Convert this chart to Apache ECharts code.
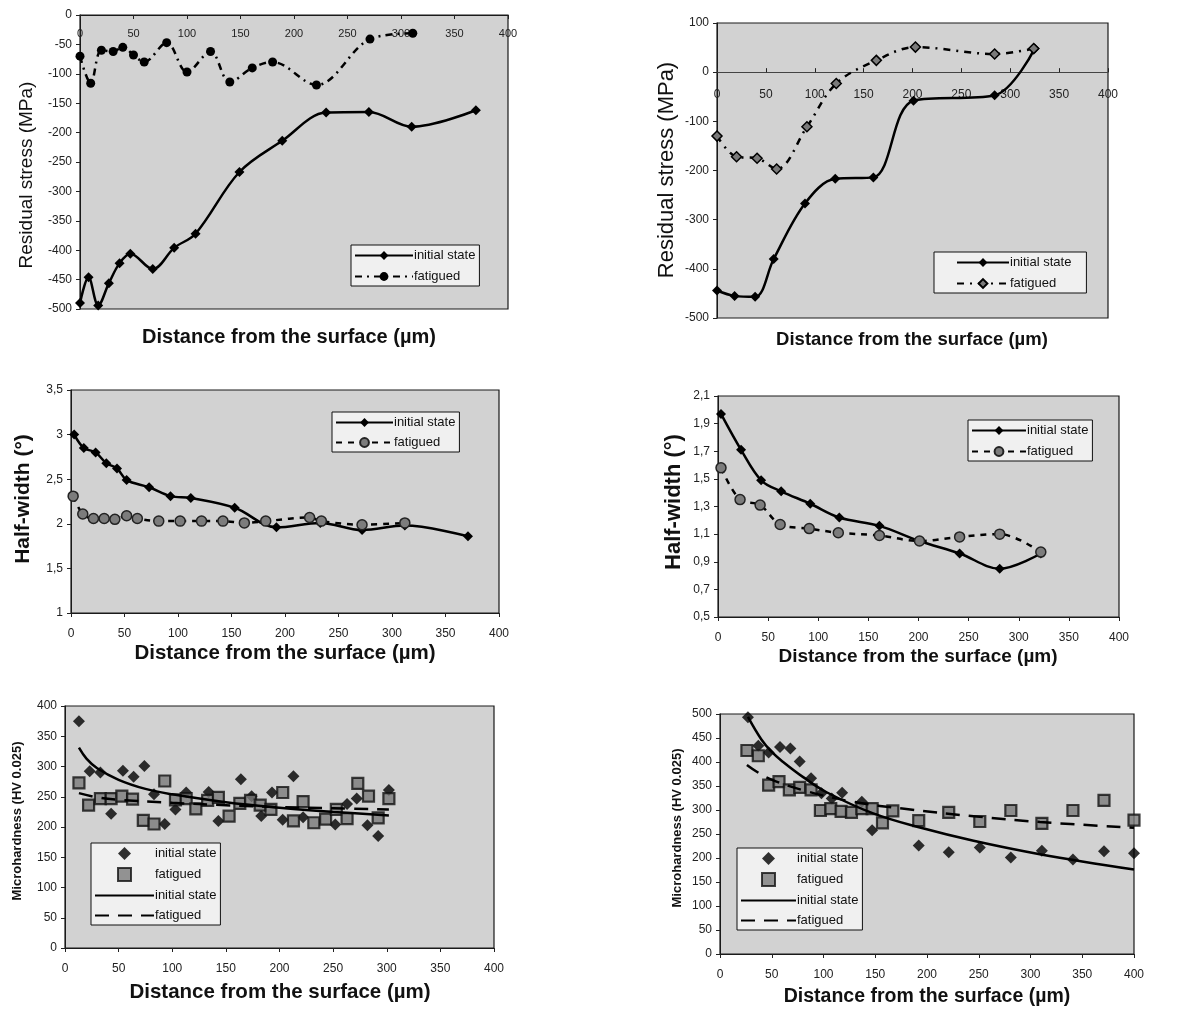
<!DOCTYPE html>
<html>
<head>
<meta charset="utf-8">
<script src="https://cdn.jsdelivr.net/npm/echarts@6/dist/echarts.min.js"></script>
<style>
html,body{margin:0;padding:0;background:#fff;}
#chart{width:1194px;height:1013px;}
</style>
</head>
<body>
<div id="chart"></div>
<script>
// ---------- DATA ----------
// Panel 1: residual stress, material A
const p1InitX = [0, 8, 17, 27, 37, 47, 68, 88, 108, 149, 189, 230, 270, 310, 370];
const p1InitY = [-490, -446, -494, -456, -422, -406, -432, -396, -372, -267, -214, -166, -165, -190, -162];
const p1FatX  = [0, 10, 20, 31, 40, 50, 60, 81, 100, 122, 140, 161, 180, 221, 271, 311];
const p1FatY  = [-70, -116, -60, -62, -55, -68, -80, -47, -97, -62, -114, -90, -80, -119, -41, -31];
// Panel 2: residual stress, material B
const p2InitX = [0, 18, 39, 58, 90, 121, 160, 201, 284, 325];
const p2InitY = [-444, -455, -457, -380, -267, -217, -214, -58, -47, 48];
const p2FatX  = [0, 20, 41, 61, 92, 122, 163, 203, 284, 324];
const p2FatY  = [-130, -172, -175, -197, -111, -23, 24, 51, 37, 48];
// Panel 3: half-width, material A
const p3InitX = [3, 12, 23, 33, 43, 52, 73, 93, 112, 153, 192, 233, 272, 312, 371];
const p3InitY = [3.0, 2.85, 2.80, 2.68, 2.62, 2.49, 2.41, 2.31, 2.29, 2.18, 1.96, 2.01, 1.93, 1.98, 1.86];
const p3FatX  = [2, 11, 21, 31, 41, 52, 62, 82, 102, 122, 142, 162, 182, 223, 234, 272, 312];
const p3FatY  = [2.31, 2.11, 2.06, 2.06, 2.05, 2.09, 2.06, 2.03, 2.03, 2.03, 2.03, 2.01, 2.03, 2.07, 2.03, 1.99, 2.01];
// Panel 4: half-width, material B
const p4InitX = [3, 23, 43, 63, 92, 121, 161, 201, 241, 281, 322];
const p4InitY = [1.97, 1.71, 1.49, 1.41, 1.32, 1.22, 1.16, 1.05, 0.96, 0.85, 0.96];
const p4FatX  = [3, 22, 42, 62, 91, 120, 161, 201, 241, 281, 322];
const p4FatY  = [1.58, 1.35, 1.31, 1.17, 1.14, 1.11, 1.09, 1.05, 1.08, 1.10, 0.97];
// Panel 5: microhardness, material A
const p5InitX = [13, 23, 33, 43, 54, 64, 74, 83, 93, 103, 113, 134, 143, 164, 174, 183, 193, 203, 213, 222, 252, 263, 272, 282, 292, 302];
const p5InitY = [375, 292, 290, 222, 293, 283, 301, 254, 205, 229, 257, 258, 210, 279, 251, 218, 257, 212, 284, 216, 204, 238, 247, 203, 185, 261];
const p5FatX  = [13, 22, 33, 43, 53, 63, 73, 83, 93, 103, 113, 122, 133, 143, 153, 163, 173, 182, 192, 203, 213, 222, 232, 243, 253, 263, 273, 283, 292, 302];
const p5FatY  = [273, 236, 247, 247, 251, 246, 211, 205, 276, 245, 247, 230, 244, 249, 218, 239, 244, 236, 229, 257, 210, 242, 207, 213, 229, 214, 272, 251, 215, 247];
const p5TrendInitX = [13, 20, 30, 50, 75, 100, 150, 200, 250, 302];
const p5TrendInitY = [331, 313, 297, 278, 263, 254, 241, 232, 225, 219];
const p5TrendFatX  = [13, 30, 50, 100, 150, 200, 250, 302];
const p5TrendFatY  = [256, 249, 245, 240, 236, 233, 231, 229];
// Panel 6: microhardness, material B
const p6InitX = [27, 37, 47, 58, 68, 77, 88, 98, 108, 118, 137, 147, 192, 221, 251, 281, 311, 341, 371, 400];
const p6InitY = [493, 434, 420, 431, 428, 401, 366, 335, 324, 336, 317, 258, 226, 212, 222, 201, 215, 197, 214, 210];
const p6FatX  = [26, 37, 47, 57, 67, 77, 88, 97, 107, 117, 127, 137, 147, 157, 167, 192, 221, 251, 281, 311, 341, 371, 400];
const p6FatY  = [424, 413, 352, 359, 342, 347, 342, 299, 303, 297, 295, 303, 303, 273, 298, 278, 295, 276, 299, 272, 299, 320, 279];
const p6TrendInitX = [27, 40, 50, 61, 80, 103, 148, 196, 245, 309, 400];
const p6TrendInitY = [494, 447, 421, 400, 369, 337, 293, 262, 236, 208, 176];
const p6TrendFatX  = [26, 47, 84, 129, 180, 245, 309, 400];
const p6TrendFatY  = [394, 366, 339, 317, 302, 287, 275, 263];

const seriesNames = ['initial state', 'fatigued'];
const xTitle = 'Distance from the surface (µm)';
const yTitles = ['Residual stress (MPa)', 'Residual stress (MPa)', 'Half-width (°)', 'Half-width (°)', 'Microhardness (HV 0.025)', 'Microhardness (HV 0.025)'];
const yRanges = [[-500, 0, 50], [-500, 100, 100], [1, 3.5, 0.5], [0.5, 2.1, 0.2], [0, 400, 50], [0, 500, 50]];
const xRange = [0, 400, 50];

// ---------- BUILD ----------
const FONT = "'Liberation Sans', Arial, Helvetica, sans-serif";
const zip = (xs, ys) => xs.map((x, i) => [x, ys[i]]);
const comma = v => String(Math.round(v * 100) / 100).replace('.', ',');

const gridBoxes = [
  {left: 80,  top: 15,  width: 428, height: 294},
  {left: 717, top: 23,  width: 391, height: 295},
  {left: 71,  top: 390, width: 428, height: 223},
  {left: 718, top: 396, width: 401, height: 221},
  {left: 65,  top: 706, width: 429, height: 242},
  {left: 720, top: 714, width: 414, height: 240}
];
const grid = gridBoxes.map(b => Object.assign({
  show: true, backgroundColor: '#d2d2d2', borderColor: '#1a1a1a', borderWidth: 1.2, containLabel: false
}, b));

// x axis of the two residual-stress panels sits on the zero line, at the top side of the plot
function zeroOffset(i) {
  const r = yRanges[i];
  return -gridBoxes[i].height * (r[1] - 0) / (r[1] - r[0]);
}
const xAxis = gridBoxes.map((b, i) => {
  const onTop = i < 2;
  return {
    type: 'value', gridIndex: i, min: xRange[0], max: xRange[1], interval: xRange[2],
    position: onTop ? 'top' : 'bottom',
    offset: onTop ? zeroOffset(i) : 0,
    splitLine: {show: false},
    axisLine: {show: true, onZero: false, lineStyle: {color: i === 1 ? '#444' : '#1a1a1a', width: 1}},
    axisTick: {show: true, inside: i === 0, length: 4, lineStyle: {color: '#222'}},
    axisLabel: {fontFamily: FONT, fontSize: i === 0 ? 11 : 12, color: '#222',
      inside: onTop, margin: i === 0 ? 13 : (i === 1 ? 17 : 15)}
  };
});
const yAxis = gridBoxes.map((b, i) => ({
  type: 'value', gridIndex: i, min: yRanges[i][0], max: yRanges[i][1], interval: yRanges[i][2],
  splitLine: {show: false},
  axisLine: {show: true, onZero: false, lineStyle: {color: '#1a1a1a', width: 1}},
  axisTick: {show: true, length: 4, lineStyle: {color: '#222'}},
  axisLabel: {fontFamily: FONT, fontSize: 12, color: '#222', margin: 8,
    formatter: (i === 2 || i === 3) ? comma : undefined}
}));

const solid = {color: '#000', width: 2.5, type: 'solid'};
function lineSeries(name, gi, xs, ys, symbol, size, itemStyle, lineStyle) {
  return {
    name: name, type: 'line', xAxisIndex: gi, yAxisIndex: gi, data: zip(xs, ys),
    smooth: 0.35, symbol: symbol, symbolSize: size, showSymbol: true,
    itemStyle: itemStyle, lineStyle: lineStyle, z: 3
  };
}
function scatterSeries(name, gi, xs, ys, symbol, size, itemStyle) {
  return {name: name, type: 'scatter', xAxisIndex: gi, yAxisIndex: gi, data: zip(xs, ys),
    symbol: symbol, symbolSize: size, itemStyle: itemStyle, z: 4, clip: false};
}
function trendSeries(name, gi, xs, ys, lineStyle) {
  return {name: name, type: 'line', xAxisIndex: gi, yAxisIndex: gi, data: zip(xs, ys),
    smooth: 0.4, symbol: 'none', showSymbol: false, itemStyle: {color: '#000'}, lineStyle: lineStyle, z: 5};
}
const blackFill = {color: '#000'};
const grayDiamond = {color: '#7a7a7a', borderColor: '#000', borderWidth: 1.5};
const grayCircle = {color: '#7c7c7c', borderColor: '#222', borderWidth: 1.5};
const graySquare = {color: '#7a7a7a', borderColor: '#111', borderWidth: 2.2};

const series = [
  lineSeries(seriesNames[0] + '|1', 0, p1InitX, p1InitY, 'diamond', 10, blackFill, solid),
  lineSeries(seriesNames[1] + '|1', 0, p1FatX, p1FatY, 'circle', 9, blackFill, {color: '#000', width: 2.5, type: [7, 5, 2, 5]}),
  lineSeries(seriesNames[0] + '|2', 1, p2InitX, p2InitY, 'diamond', 10, blackFill, solid),
  lineSeries(seriesNames[1] + '|2', 1, p2FatX, p2FatY, 'diamond', 10, grayDiamond, {color: '#000', width: 2.5, type: [7, 6, 2, 6]}),
  lineSeries(seriesNames[0] + '|3', 2, p3InitX, p3InitY, 'diamond', 10, blackFill, solid),
  lineSeries(seriesNames[1] + '|3', 2, p3FatX, p3FatY, 'circle', 10, grayCircle, {color: '#000', width: 2.5, type: [6, 6]}),
  lineSeries(seriesNames[0] + '|4', 3, p4InitX, p4InitY, 'diamond', 10, blackFill, solid),
  lineSeries(seriesNames[1] + '|4', 3, p4FatX, p4FatY, 'circle', 10, grayCircle, {color: '#000', width: 2.5, type: [6, 6]}),
  scatterSeries(seriesNames[0] + '|5s', 4, p5InitX, p5InitY, 'diamond', 12, blackFill),
  scatterSeries(seriesNames[1] + '|5s', 4, p5FatX, p5FatY, 'rect', 11, graySquare),
  trendSeries(seriesNames[0] + '|5l', 4, p5TrendInitX, p5TrendInitY, solid),
  trendSeries(seriesNames[1] + '|5l', 4, p5TrendFatX, p5TrendFatY, {color: '#000', width: 2.5, type: [14, 9]}),
  scatterSeries(seriesNames[0] + '|6s', 5, p6InitX, p6InitY, 'diamond', 12, blackFill),
  scatterSeries(seriesNames[1] + '|6s', 5, p6FatX, p6FatY, 'rect', 11, graySquare),
  trendSeries(seriesNames[0] + '|6l', 5, p6TrendInitX, p6TrendInitY, solid),
  trendSeries(seriesNames[1] + '|6l', 5, p6TrendFatX, p6TrendFatY, {color: '#000', width: 2.5, type: [14, 9]})
];

const DIAMOND_ICON = 'path://M5 0L10 5L5 10L0 5Z';
const SQUARE_ICON = 'path://M0 0H10V10H0Z';
const hideSym = {color: 'rgba(0,0,0,0)', borderWidth: 0, borderColor: 'rgba(0,0,0,0)'};

function legendBox(left, top, w, items, itemWidth, gap, pad, itemHeight) {
  return {
    left: left, top: top, width: w, orient: 'vertical', selectedMode: false,
    itemWidth: itemWidth, itemHeight: itemHeight || 11, itemGap: gap, padding: pad,
    symbolKeepAspect: true,
    backgroundColor: '#f0f0f0', borderColor: '#111', borderWidth: 1, borderRadius: 0,
    textStyle: {fontFamily: FONT, fontSize: 13, color: '#111', padding: [0, 0, 0, -4]},
    formatter: n => n.split('|')[0],
    data: items
  };
}
function hardnessLegend(k) {
  return [
    {name: 'initial state|' + k + 's', icon: DIAMOND_ICON},
    {name: 'fatigued|' + k + 's', icon: SQUARE_ICON},
    {name: 'initial state|' + k + 'l', itemStyle: hideSym},
    {name: 'fatigued|' + k + 'l', itemStyle: hideSym}
  ];
}
const legend = [
  legendBox(351, 245, 122, ['initial state|1', 'fatigued|1'], 58, 8, [4, 4, 3, 3]),
  legendBox(934, 252, 160, ['initial state|2', 'fatigued|2'], 52, 8, [4, 15, 3, 22]),
  legendBox(332, 412, 122, ['initial state|3', 'fatigued|3'], 57, 7, [4, 4, 3, 3]),
  legendBox(968, 420, 112, ['initial state|4', 'fatigued|4'], 54, 8, [4, 4, 3, 3]),
  legendBox(91, 843, 124, hardnessLegend(5), 59, 7, [4, 4, 3, 3], 13),
  legendBox(737, 848, 116, hardnessLegend(6), 55, 7, [4, 4, 3, 3], 13)
];

const xTitlePos = [[289, 337, 20], [912, 340, 18.5], [285, 653, 20.5], [918, 657, 19], [280, 992, 20.5], [927, 997, 19.5]];
const yTitlePos = [[27, 175, 19, 'normal'], [667, 170, 22, 'normal'], [23, 499, 21, 'bold'], [674, 502, 22, 'bold'], [17, 821, 13, 'bold'], [677, 828, 13, 'bold']];
const graphic = [];
xTitlePos.forEach(p => graphic.push({
  type: 'text', x: p[0], y: p[1], silent: true,
  style: {text: xTitle, font: 'bold ' + p[2] + 'px ' + FONT, fill: '#111', align: 'center', verticalAlign: 'middle'}
}));
yTitlePos.forEach((p, i) => graphic.push({
  type: 'text', x: p[0], y: p[1], rotation: Math.PI / 2, silent: true,
  style: {text: yTitles[i], font: p[3] + ' ' + p[2] + 'px ' + FONT, fill: '#111', align: 'center', verticalAlign: 'middle'}
}));

const chart = echarts.init(document.getElementById('chart'), null, {renderer: 'canvas'});
chart.setOption({
  animation: false,
  backgroundColor: '#ffffff',
  textStyle: {fontFamily: FONT},
  grid: grid, xAxis: xAxis, yAxis: yAxis, legend: legend, series: series, graphic: graphic
});
</script>
</body>
</html>
